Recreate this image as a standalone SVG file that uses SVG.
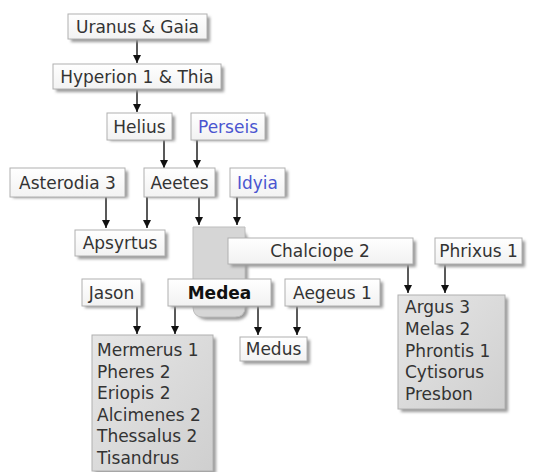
<svg xmlns="http://www.w3.org/2000/svg" width="534" height="472" viewBox="0 0 534 472">
<defs>
<linearGradient id="wg" x1="0" y1="0" x2="0" y2="1"><stop offset="0" stop-color="#ffffff"/><stop offset="1" stop-color="#f2f2f2"/></linearGradient>
<linearGradient id="gg" x1="0" y1="0" x2="1" y2="1"><stop offset="0" stop-color="#e6e6e6"/><stop offset="1" stop-color="#cfcfcf"/></linearGradient>
<filter id="blur" x="-10%" y="-10%" width="130%" height="130%"><feGaussianBlur stdDeviation="1.5"/></filter>
<marker id="ah" viewBox="0 0 8 8" refX="8" refY="4" markerWidth="8" markerHeight="8" markerUnits="userSpaceOnUse" orient="auto">
<path d="M0,0 L8,4 L0,8 Z" fill="#111"/>
</marker>
</defs>
<style>
.sh{fill:#9a9a9a;filter:url(#blur)}
.bx{fill:url(#wg);stroke:#b0b0b0;stroke-width:1}
.gb{fill:url(#gg);stroke:#b0b0b0;stroke-width:1}
.t{font-family:"DejaVu Sans","Verdana",sans-serif;font-size:17px;fill:#333;text-anchor:middle}
.l{font-family:"DejaVu Sans","Verdana",sans-serif;font-size:17px;fill:#333}
.b{font-weight:bold;fill:#111}
.blue{fill:#4a55d0}
.c line{stroke:#222;stroke-width:1.5;marker-end:url(#ah)}
</style>
<rect width="534" height="472" fill="#ffffff"/>

<g id="medea-group">
<rect class="sh" x="196" y="230" width="52" height="90" rx="10"/>
<path d="M193,227 H245 V307 Q245,317 235,317 H203 Q193,317 193,307 Z" fill="#d6d6d6" stroke="#bdbdbd"/>
</g>

<g class="c" id="connectors">
<line x1="137" y1="39" x2="137" y2="63"/>
<line x1="137" y1="89" x2="137" y2="112"/>
<line x1="164" y1="140" x2="164" y2="168"/>
<line x1="197" y1="140" x2="197" y2="168"/>
<line x1="106" y1="197" x2="106" y2="228"/>
<line x1="147" y1="197" x2="147" y2="228"/>
<line x1="199" y1="197" x2="199" y2="225"/>
<line x1="237" y1="197" x2="237" y2="225"/>
<line x1="408" y1="264" x2="408" y2="293"/>
<line x1="445" y1="264" x2="445" y2="293"/>
<line x1="137" y1="306" x2="137" y2="334"/>
<line x1="175" y1="306" x2="175" y2="334"/>
<line x1="258" y1="306" x2="258" y2="335"/>
<line x1="297" y1="306" x2="297" y2="335"/>
</g>

<g id="uranus-gaia"><rect class="sh" x="71" y="17" width="139" height="25"/><rect class="bx" x="68" y="14" width="139" height="25"/><text class="t" x="137.5" y="33">Uranus &amp; Gaia</text></g>
<g id="hyperion"><rect class="sh" x="56" y="67" width="168" height="25"/><rect class="bx" x="53" y="64" width="168" height="25"/><text class="t" x="137" y="83">Hyperion 1 &amp; Thia</text></g>
<g id="helius"><rect class="sh" x="110" y="116" width="65" height="25"/><rect class="bx" x="107" y="113" width="65" height="27"/><text class="t" x="139.5" y="133">Helius</text></g>
<g id="perseis"><rect class="sh" x="194" y="116" width="74" height="25"/><rect class="bx" x="191" y="113" width="74" height="27"/><text class="t blue" x="228" y="133">Perseis</text></g>
<g id="asterodia"><rect class="sh" x="13" y="171" width="115" height="27"/><rect class="bx" x="10" y="168" width="115" height="29"/><text class="t" x="67.5" y="189">Asterodia 3</text></g>
<g id="aeetes"><rect class="sh" x="147" y="171" width="71" height="27"/><rect class="bx" x="144" y="168" width="71" height="29"/><text class="t" x="179.5" y="189">Aeetes</text></g>
<g id="idyia"><rect class="sh" x="233" y="171" width="55" height="27"/><rect class="bx" x="230" y="168" width="55" height="29"/><text class="t blue" x="257.5" y="189">Idyia</text></g>
<g id="apsyrtus"><rect class="sh" x="78" y="233" width="90" height="26"/><rect class="bx" x="75" y="230" width="90" height="26"/><text class="t" x="120" y="249">Apsyrtus</text></g>
<g id="chalciope"><rect class="sh" x="231" y="241" width="185" height="26"/><rect class="bx" x="228" y="238" width="185" height="26"/><text class="t" x="320" y="257">Chalciope 2</text></g>
<g id="phrixus"><rect class="sh" x="438" y="241" width="87" height="26"/><rect class="bx" x="435" y="238" width="87" height="26"/><text class="t" x="478.5" y="257">Phrixus 1</text></g>
<g id="jason"><rect class="sh" x="85" y="282" width="59" height="26"/><rect class="bx" x="82" y="279" width="59" height="27"/><text class="t" x="111.5" y="299">Jason</text></g>
<g id="medea"><rect class="sh" x="171" y="282" width="103" height="26"/><rect class="bx" x="168" y="279" width="103" height="27"/><text class="t b" x="219.5" y="299">Medea</text></g>
<g id="aegeus"><rect class="sh" x="288" y="282" width="95" height="26"/><rect class="bx" x="285" y="279" width="95" height="27"/><text class="t" x="332.5" y="299">Aegeus 1</text></g>
<g id="medus"><rect class="sh" x="243" y="340" width="67" height="24"/><rect class="bx" x="240" y="337" width="67" height="24"/><text class="t" x="273.5" y="355">Medus</text></g>
<g id="argus-list"><rect class="sh" x="401" y="298" width="107" height="114"/><rect class="gb" x="398" y="295" width="107" height="114"/>
<text class="l" x="405" y="313">Argus 3</text><text class="l" x="405" y="335">Melas 2</text><text class="l" x="405" y="357">Phrontis 1</text><text class="l" x="405" y="378">Cytisorus</text><text class="l" x="405" y="400">Presbon</text></g>
<g id="mermerus-list"><rect class="sh" x="95" y="338" width="121" height="136"/><rect class="gb" x="92" y="335" width="121" height="136"/>
<text class="l" x="97" y="356">Mermerus 1</text><text class="l" x="97" y="378">Pheres 2</text><text class="l" x="97" y="399">Eriopis 2</text><text class="l" x="97" y="421">Alcimenes 2</text><text class="l" x="97" y="442">Thessalus 2</text><text class="l" x="97" y="464">Tisandrus</text></g>
</svg>
